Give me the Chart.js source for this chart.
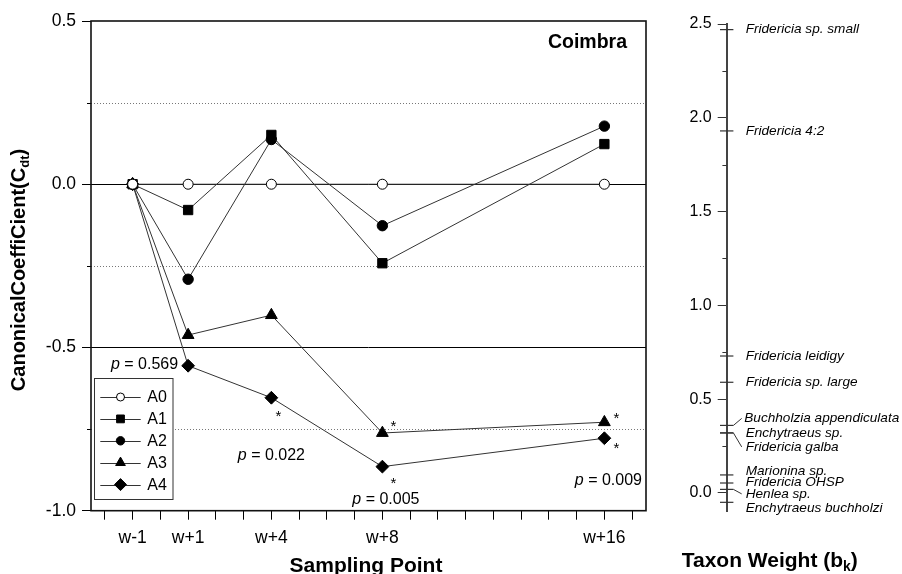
<!DOCTYPE html>
<html><head><meta charset="utf-8">
<script src="https://cdn.jsdelivr.net/npm/chart.js@4/dist/chart.umd.min.js"></script>
<style>
html,body{margin:0;padding:0;background:#fff;}
#wrap{position:relative;width:902px;height:574px;overflow:hidden;background:#fff;}
canvas{position:absolute;top:0;}
#c1{left:0;} #c2{left:680px;}
</style></head><body>
<div id="wrap"><canvas id="c1" width="680" height="574"></canvas><canvas id="c2" width="222" height="574"></canvas></div>
<script>
// ---- data ----
const weeks = [-1, 1, 4, 8, 16];
const weekLabels = ['w-1', 'w+1', 'w+4', 'w+8', 'w+16'];
const seriesNames = ['A0', 'A1', 'A2', 'A3', 'A4'];
const A0 = [0, 0, 0, 0, 0];
const A1 = [0, -0.079, 0.151, -0.242, 0.123];
const A2 = [0, -0.291, 0.137, -0.127, 0.178];
const A3 = [0, -0.462, -0.401, -0.762, -0.729];
const A4 = [0, -0.556, -0.654, -0.865, -0.778];
const yTickValues = [-1, -0.75, -0.5, -0.25, 0, 0.25, 0.5];
const xTickWeeks = [-2,-1,0,1,2,3,4,5,6,7,8,9,10,11,12,13,14,15,16,17];
const pValues = ['0.569', '0.022', '0.005', '0.009'];
const pWeekIndex = [1, 2, 3, 4];
const sigSeries = [4, 3, 4, 3, 4];      // series index with significance star
const sigWeekIndex = [2, 3, 3, 4, 4];   // week index of the star
const siteName = 'Coimbra';

const taxonNames = ['Fridericia sp. small', 'Fridericia 4:2', 'Fridericia leidigy', 'Fridericia sp. large',
  'Buchholzia appendiculata', 'Enchytraeus sp.', 'Fridericia galba', 'Marionina sp.',
  'Fridericia OHSP', 'Henlea sp.', 'Enchytraeus buchholzi'];
const taxonWeights = [2.47, 1.93, 0.73, 0.59, 0.36, 0.32, 0.32, 0.096, 0.053, 0.019, -0.05];
const taxonAxisTicks = [0, 0.25, 0.5, 0.75, 1, 1.25, 1.5, 1.75, 2, 2.25, 2.5];

// ---- styles ----
const FONT = '"Liberation Sans", Arial, Helvetica, sans-serif';
Chart.defaults.font.family = FONT;
Chart.defaults.color = '#000';
const isMajor = v => Math.abs(v * 2 - Math.round(v * 2)) < 1e-9;
const styles = [
  {ps: 'circle', r: 5, fill: '#fff', lr: 4},
  {ps: 'rect', r: 6.6, fill: '#000', lr: 5.5},
  {ps: 'circle', r: 5.2, fill: '#000', lr: 4.2},
  {ps: 'triangle', r: 6.8, fill: '#000', lr: 5.6},
  {ps: 'rectRot', r: 6.4, fill: '#000', lr: 6},
];
const seriesData = [A0, A1, A2, A3, A4];

function drawMarker(ctx, st, r, x, y) {
  ctx.save();
  ctx.fillStyle = st.fill; ctx.strokeStyle = '#000'; ctx.lineWidth = 1;
  Chart.helpers.drawPoint(ctx, {pointStyle: st.ps, rotation: 0, radius: r, borderWidth: 1}, x, y);
  ctx.restore();
}
function drawRich(ctx, parts, x, y, align) {
  let total = 0;
  parts.forEach(p => { ctx.font = p.f; p.w = ctx.measureText(p.t).width; total += p.w; });
  let cx = align === 'right' ? x - total : align === 'center' ? x - total / 2 : x;
  parts.forEach(p => { ctx.font = p.f; ctx.textAlign = 'left'; ctx.fillText(p.t, cx, y + (p.dy || 0)); cx += p.w; });
}

const mainDecor = {
  id: 'mainDecor',
  beforeDatasetsDraw(chart) {
    const {ctx, chartArea: a, scales: {x, y}} = chart;
    ctx.save();
    ctx.strokeStyle = '#777'; ctx.lineWidth = 1; ctx.setLineDash([1, 2]);
    yTickValues.filter(v => !isMajor(v)).forEach(v => {
      const py = Math.round(y.getPixelForValue(v)) + 0.5;
      ctx.beginPath(); ctx.moveTo(a.left, py); ctx.lineTo(a.right, py); ctx.stroke();
    });
    ctx.setLineDash([]);
    ctx.strokeStyle = '#000';
    [0, -0.5].forEach(v => {
      const py = Math.round(y.getPixelForValue(v)) + 0.5;
      ctx.beginPath(); ctx.moveTo(a.left, py); ctx.lineTo(a.right, py); ctx.stroke();
    });
    yTickValues.filter(v => !isMajor(v)).forEach(v => {
      const py = Math.round(y.getPixelForValue(v)) + 0.5;
      ctx.beginPath(); ctx.moveTo(a.left - 4, py); ctx.lineTo(a.left, py); ctx.stroke();
    });
    ctx.lineWidth = 1.6; ctx.strokeStyle = '#111';
    ctx.strokeRect(a.left, a.top, a.right - a.left, a.bottom - a.top);
    ctx.restore();
  },
  afterDatasetsDraw(chart) {
    const {ctx, chartArea: a, scales: {x, y}} = chart;
    ctx.save();
    ctx.fillStyle = '#000';
    ctx.textBaseline = 'middle';
    ctx.font = 'bold 19.5px ' + FONT; ctx.textAlign = 'right';
    ctx.fillText(siteName, a.right - 19, a.top + 22);
    const pPos = [[-10, -1, 'right'], [0, 58, 'center'], [3.5, 33, 'center'], [4, 42, 'center']];
    pValues.forEach((pv, i) => {
      const wi = pWeekIndex[i];
      const px = x.getPixelForValue(weeks[wi]) + pPos[i][0];
      const py = y.getPixelForValue(A4[wi]) + pPos[i][1];
      drawRich(ctx, [{t: 'p', f: 'italic 16px ' + FONT}, {t: ' = ' + pv, f: '16px ' + FONT}], px, py, pPos[i][2]);
    });
    const starOff = [[7, 15], [11, -11], [11, 13], [12, -8], [12, 6]];
    ctx.font = '15px ' + FONT; ctx.textAlign = 'center'; ctx.textBaseline = 'alphabetic';
    sigSeries.forEach((s, i) => {
      const wi = sigWeekIndex[i];
      const px = x.getPixelForValue(weeks[wi]) + starOff[i][0];
      const py = y.getPixelForValue(seriesData[s][wi]) + starOff[i][1];
      ctx.fillText('*', px, py + 8.5);
    });
    const lb = {x: 94.5, y: 378.5, w: 78.5, h: 121};
    ctx.fillStyle = '#fff'; ctx.fillRect(lb.x, lb.y, lb.w, lb.h);
    ctx.strokeStyle = '#333'; ctx.lineWidth = 1; ctx.strokeRect(lb.x, lb.y, lb.w, lb.h);
    seriesNames.forEach((nm, i) => {
      const iy = 397 + i * 21.9;
      ctx.strokeStyle = '#333'; ctx.lineWidth = 1;
      ctx.beginPath(); ctx.moveTo(100.3, Math.round(iy) + 0.5); ctx.lineTo(140.7, Math.round(iy) + 0.5); ctx.stroke();
      drawMarker(ctx, styles[i], styles[i].lr, 120.5, iy);
      ctx.fillStyle = '#000'; ctx.font = '16px ' + FONT; ctx.textAlign = 'left'; ctx.textBaseline = 'middle';
      ctx.fillText(nm, 147.3, iy + 1);
    });
    ctx.fillStyle = '#000'; ctx.textBaseline = 'alphabetic';
    ctx.font = 'bold 21px ' + FONT; ctx.textAlign = 'center';
    ctx.fillText('Sampling Point', 366, 571.7);
    ctx.translate(18, 270); ctx.rotate(-Math.PI / 2);
    drawRich(ctx, [
      {t: 'CanonicalCoeffiCient(C', f: 'bold 20px ' + FONT},
      {t: 'dt', f: 'bold 13px ' + FONT, dy: 4},
      {t: ')', f: 'bold 20px ' + FONT}
    ], 0, 7, 'center');
    ctx.restore();
  }
};

const datasets = seriesData.map((arr, i) => ({
  label: seriesNames[i],
  data: arr.map((v, j) => ({x: weeks[j], y: v})),
  borderColor: '#333', borderWidth: 1,
  pointStyle: styles[i].ps, pointRadius: styles[i].r, pointHoverRadius: styles[i].r,
  pointBackgroundColor: styles[i].fill, pointBorderColor: '#000', pointBorderWidth: 1,
  fill: false, tension: 0, clip: false
}));

new Chart(document.getElementById('c1'), {
  type: 'line',
  data: {datasets},
  options: {
    responsive: false, animation: false, devicePixelRatio: 1,
    layout: {padding: {top: 21, right: 34, bottom: 0, left: 0}},
    plugins: {legend: {display: false}, tooltip: {enabled: false}},
    scales: {
      x: {
        type: 'linear', min: -2.5, max: 17.5,
        afterBuildTicks: s => { s.ticks = xTickWeeks.map(v => ({value: v})); },
        afterFit: s => { s.height = 63.3; },
        grid: {display: true, drawOnChartArea: false, drawTicks: true, tickLength: 9, tickColor: '#000', tickWidth: 1},
        border: {display: false},
        ticks: {autoSkip: false, maxRotation: 0, padding: 7.5, font: {size: 17.5}, color: '#000',
          callback: v => { const i = weeks.indexOf(v); return i >= 0 ? weekLabels[i] : ''; }}
      },
      y: {
        min: -1, max: 0.5,
        afterBuildTicks: s => { s.ticks = yTickValues.map(v => ({value: v})); },
        afterFit: s => { s.width = 91; },
        grid: {display: true, drawOnChartArea: false, drawTicks: true, tickLength: 9, tickWidth: 1,
          tickColor: c => isMajor(c.tick.value) ? '#000' : 'rgba(0,0,0,0)'},
        border: {display: false},
        ticks: {padding: 6, font: {size: 17.5}, color: '#000',
          callback: v => isMajor(v) ? v.toFixed(1) : ''}
      }
    }
  },
  plugins: [mainDecor]
});

// ---- taxon weight axis ----
const taxonDecor = {
  id: 'taxonDecor',
  beforeDatasetsDraw(chart) {
    const {ctx, chartArea: a, scales: {y}} = chart;
    ctx.save(); ctx.strokeStyle = '#333'; ctx.lineWidth = 1;
    taxonAxisTicks.filter(v => !isMajor(v)).forEach(v => {
      const py = Math.round(y.getPixelForValue(v)) + 0.5;
      ctx.beginPath(); ctx.moveTo(a.left - 4.3, py); ctx.lineTo(a.left, py); ctx.stroke();
    });
    ctx.restore();
  },
  afterDatasetsDraw(chart) {
    const {ctx, chartArea: a, scales: {y}} = chart;
    const nudge = [0, 0, 0, 0, -7, 0, 14, -4, -0.5, 4.5, 6];
    const leader = [false, false, false, false, true, false, true, false, false, true, false];
    ctx.save();
    ctx.fillStyle = '#000'; ctx.strokeStyle = '#333'; ctx.lineWidth = 1;
    ctx.font = 'italic 13.6px ' + FONT; ctx.textAlign = 'left'; ctx.textBaseline = 'middle';
    taxonNames.forEach((nm, i) => {
      const ty = y.getPixelForValue(taxonWeights[i]);
      const ly = ty + nudge[i];
      if (leader[i]) {
        ctx.beginPath(); ctx.moveTo(a.left + 6.7, ty); ctx.lineTo(a.left + 15, ly); ctx.stroke();
      }
      ctx.fillText(nm, a.left + (leader[i] && i === 4 ? 17.6 : 19), ly);
    });
    ctx.textBaseline = 'alphabetic';
    drawRich(ctx, [
      {t: 'Taxon Weight (b', f: 'bold 21px ' + FONT},
      {t: 'k', f: 'bold 14px ' + FONT, dy: 4},
      {t: ')', f: 'bold 21px ' + FONT}
    ], 1.7, 566.7, 'left');
    ctx.restore();
  }
};

new Chart(document.getElementById('c2'), {
  type: 'scatter',
  data: {datasets: [{
    label: 'Taxon weight',
    data: taxonWeights.map(v => ({x: 0, y: v})),
    pointStyle: 'line', pointRadius: 6.7, pointHoverRadius: 6.7,
    pointBorderColor: '#333', pointBorderWidth: 1.2, borderColor: '#333', clip: false
  }]},
  options: {
    responsive: false, animation: false, devicePixelRatio: 1,
    layout: {padding: {top: 24, right: 10, bottom: 62.3, left: 0}},
    plugins: {legend: {display: false}, tooltip: {enabled: false}},
    scales: {
      x: {type: 'linear', min: 0, max: 1, display: false},
      y: {
        min: -0.1, max: 2.5,
        afterBuildTicks: s => { s.ticks = taxonAxisTicks.map(v => ({value: v})); },
        afterFit: s => { s.width = 46.7; },
        grid: {display: true, drawOnChartArea: false, drawTicks: true, tickLength: 9, tickWidth: 1,
          tickColor: c => isMajor(c.tick.value) ? '#333' : 'rgba(0,0,0,0)'},
        border: {display: true, color: '#444', width: 2},
        ticks: {padding: 6, font: {size: 16}, color: '#000',
          callback: v => isMajor(v) ? v.toFixed(1) : ''}
      }
    }
  },
  plugins: [taxonDecor]
});
</script>
</body></html>
